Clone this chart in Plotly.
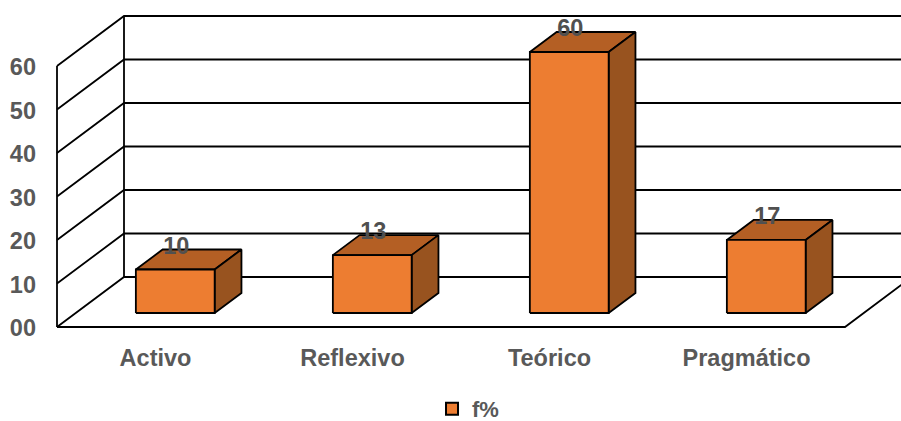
import plotly.graph_objects as go

# Data
categories = ["Activo", "Reflexivo", "Teórico", "Pragmático"]
values = [10, 13.3, 60, 16.8]
series_name = "f%"
y_ticks = [0, 10, 20, 30, 40, 50, 60]
y_tick_labels = ["00", "10", "20", "30", "40", "50", "60"]

# Oblique projection of the 3-D box: depth (0..1) shifts along both axes
DEPTH_X = 67 / 197      # category units per full depth
DEPTH_Y = 50 / 4.35     # value units per full depth
BAR_D0, BAR_D1 = 0.28, 0.68
BAR_W = 0.40
BAR_SHIFT = 1 / 197
N = len(categories)
RIGHT_END = N + 0.5

def proj(x, v, d):
    return x + d * DEPTH_X, v + d * DEPTH_Y

def poly(pts):
    xs, ys = zip(*[proj(*p) for p in pts])
    return list(xs) + [xs[0]], list(ys) + [ys[0]]

LINE = dict(color="#000000", width=1.8)
FRONT, TOP, SIDE = "#ED7D31", "#B45F24", "#98531F"
FONT = "Liberation Sans"
TXT = "#595959"
FS = 23.5

fig = go.Figure()

def add_line(pts):
    xs, ys = zip(*[proj(*p) for p in pts])
    fig.add_trace(go.Scatter(x=xs, y=ys, mode="lines", line=LINE,
                             hoverinfo="skip", showlegend=False))

ymax = y_ticks[-1]
# walls and gridlines
add_line([(0, 0, 0), (0, ymax, 0)])
add_line([(0, 0, 1), (0, ymax, 1)])
for t in y_ticks:
    add_line([(0, t, 0), (0, t, 1), (RIGHT_END, t, 1)])
# floor
add_line([(0, 0, 0), (N, 0, 0), (N, 0, 1)])

# bars
for i, v in enumerate(values):
    c = i + 0.5 + BAR_SHIFT
    l, r = c - BAR_W / 2, c + BAR_W / 2
    faces = [
        ([(l, v, BAR_D0), (r, v, BAR_D0), (r, v, BAR_D1), (l, v, BAR_D1)], TOP),
        ([(r, 0, BAR_D0), (r, 0, BAR_D1), (r, v, BAR_D1), (r, v, BAR_D0)], SIDE),
        ([(l, 0, BAR_D0), (r, 0, BAR_D0), (r, v, BAR_D0), (l, v, BAR_D0)], FRONT),
    ]
    for pts, col in faces:
        xs, ys = poly(pts)
        fig.add_trace(go.Scatter(x=xs, y=ys, mode="lines", fill="toself", fillcolor=col,
                                 line=LINE, hoverinfo="skip", showlegend=False))

# value labels
lx, ly = [], []
for i, v in enumerate(values):
    px, py = proj(i + 0.5 + 2 * BAR_SHIFT, v, BAR_D0)
    lx.append(px)
    ly.append(py + 5.0)
fig.add_trace(go.Scatter(x=lx, y=ly, mode="text", text=[str(round(v)) for v in values],
                         textposition="middle center",
                         textfont=dict(family=FONT, size=FS, color="#505050", weight="bold"),
                         hoverinfo="skip", showlegend=False))

# legend entry
fig.add_trace(go.Scatter(x=[None], y=[None], mode="markers", name=series_name,
                         marker=dict(symbol="square", size=12, color=FRONT,
                                     line=dict(color="#000000", width=2))))

fig.update_layout(
    width=901, height=421, margin=dict(l=52, r=0, t=0, b=89),
    paper_bgcolor="white", plot_bgcolor="white",
    xaxis=dict(range=[-5 / 197, 844 / 197], tickvals=[i + 0.5 for i in range(N)],
               ticktext=categories, showgrid=False, zeroline=False, showline=False, ticks="",
               ticklabelstandoff=9,
               tickfont=dict(family=FONT, size=FS, color=TXT, weight="bold")),
    yaxis=dict(range=[-5 / 4.35, 327 / 4.35], tickvals=y_ticks, ticktext=y_tick_labels,
               showgrid=False, zeroline=False, showline=False, ticks="",
               ticklabelstandoff=15, ticklabelshift=1,
               tickfont=dict(family=FONT, size=FS, color=TXT, weight="bold")),
    showlegend=True,
    legend=dict(orientation="h", x=0.49, xanchor="center", xref="paper",
                yref="container", y=12 / 421, yanchor="middle",
                font=dict(family=FONT, size=22, color=TXT, weight="bold"),
                bgcolor="rgba(0,0,0,0)", itemsizing="trace"),
)

fig.write_html("out.html", config={"displayModeBar": False},
               post_script="document.body.style.margin='0';")
